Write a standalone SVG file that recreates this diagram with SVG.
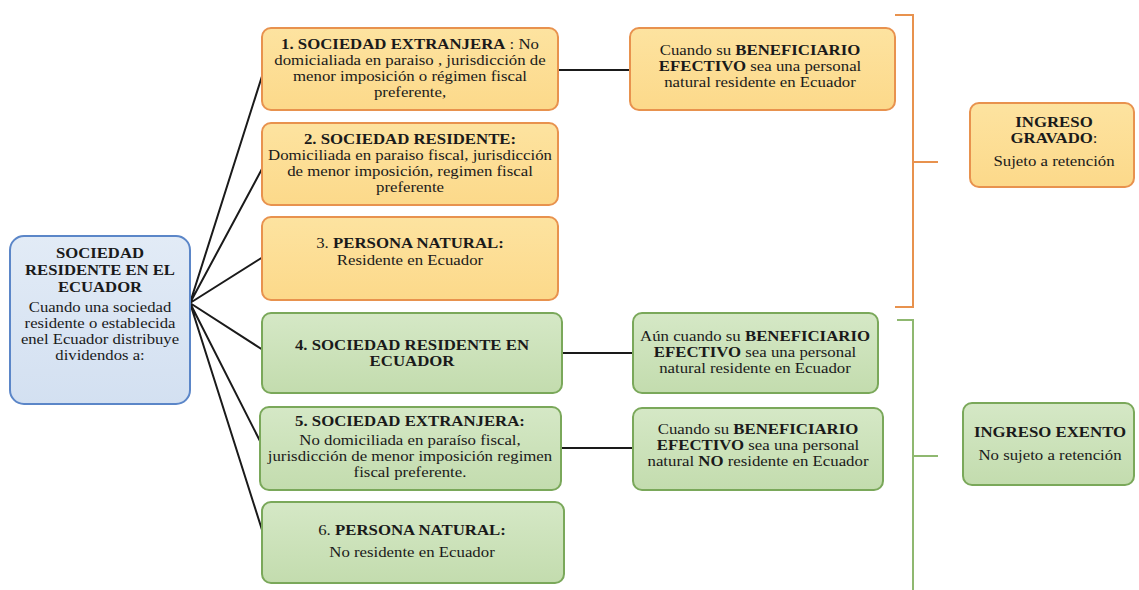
<svg xmlns="http://www.w3.org/2000/svg" width="1139" height="590" viewBox="0 0 1139 590">
<defs>
<linearGradient id="gOr" x1="0" y1="0" x2="0" y2="1"><stop offset="0" stop-color="#fde3a0"/><stop offset="1" stop-color="#fcd98a"/></linearGradient>
<linearGradient id="gGr" x1="0" y1="0" x2="0" y2="1"><stop offset="0" stop-color="#d5e8c6"/><stop offset="1" stop-color="#c3dcae"/></linearGradient>
<linearGradient id="gBl" x1="0" y1="0" x2="0" y2="1"><stop offset="0" stop-color="#e2ebf6"/><stop offset="1" stop-color="#d3e0f1"/></linearGradient>
</defs>
<style>
text{font-family:"Liberation Serif","Times New Roman",Tinos,"Noto Serif","DejaVu Serif",serif;font-size:14px;fill:#1a1a1a;text-anchor:middle}
.b{font-weight:bold}
.lt{font-size:14.5px}
.or{fill:url(#gOr);stroke:#e8924e;stroke-width:2}
.gr{fill:url(#gGr);stroke:#7aa85a;stroke-width:2}
.bl{fill:url(#gBl);stroke:#5b86c8;stroke-width:2}
.ln{stroke:#1a1a1a;stroke-width:2;fill:none}
.bo{stroke:#e8924e;stroke-width:2;fill:none}
.bg{stroke:#8fb870;stroke-width:2;fill:none}
</style>
<rect width="1139" height="590" fill="#ffffff"/>
<g id="connectors">
<path class="ln" d="M190 303 L263 73 M190 303 L263 167 M190 303 L263 257 M190 303 L263 350 M190 303 L261 443 M190 303 L263 533"/>
<path class="ln" d="M558 70 L630 70 M562 353 L633 353 M561 448 L633 448"/>
<path class="bo" d="M895 15 L913 15 L913 307 L895 307 M913 162 L938 162"/>
<path class="bg" d="M897 320 L913 320 L913 590 M913 456 L938 456"/>
</g>
<g id="n0">
<rect class="bl" x="10" y="236" width="180" height="168" rx="14"/>
<g transform="matrix(1.15 0 0 1 100 0)">
<text class="b lt" x="0" y="258">SOCIEDAD</text>
<text class="b lt" x="0" y="275">RESIDENTE EN EL</text>
<text class="b lt" x="0" y="292">ECUADOR</text>
<text class="lt" x="0" y="312">Cuando una sociedad</text>
<text class="lt" x="0" y="328">residente o establecida</text>
<text class="lt" x="0" y="344">enel Ecuador distribuye</text>
<text class="lt" x="0" y="360">dividendos a:</text>
</g>
</g>
<g id="n1">
<rect class="or" x="262" y="28" width="296" height="82" rx="9"/>
<g transform="matrix(1.2 0 0 1 410 0)">
<text x="0" y="49"><tspan class="b">1. SOCIEDAD EXTRANJERA</tspan> : No</text>
<text x="0" y="65">domicialiada en paraiso , jurisdicción de</text>
<text x="0" y="81">menor imposición o régimen fiscal</text>
<text x="0" y="97">preferente,</text>
</g>
</g>
<g id="n2">
<rect class="or" x="262" y="123" width="296" height="82" rx="9"/>
<g transform="matrix(1.2 0 0 1 410 0)">
<text class="b" x="0" y="144">2. SOCIEDAD RESIDENTE:</text>
<text x="0" y="160">Domiciliada en paraiso fiscal, jurisdicción</text>
<text x="0" y="176">de menor imposición, regimen fiscal</text>
<text x="0" y="192">preferente</text>
</g>
</g>
<g id="n3">
<rect class="or" x="262" y="217" width="296" height="83" rx="9"/>
<g transform="matrix(1.2 0 0 1 410 0)">
<text x="0" y="248">3. <tspan class="b">PERSONA NATURAL:</tspan></text>
<text x="0" y="265">Residente en Ecuador</text>
</g>
</g>
<g id="n4">
<rect class="gr" x="262" y="313" width="300" height="80" rx="9"/>
<g transform="matrix(1.2 0 0 1 412 0)">
<text class="b" x="0" y="350">4. SOCIEDAD RESIDENTE EN</text>
<text class="b" x="0" y="366">ECUADOR</text>
</g>
</g>
<g id="n5">
<rect class="gr" x="260" y="407" width="301" height="83" rx="9"/>
<g transform="matrix(1.2 0 0 1 410 0)">
<text class="b" x="0" y="426">5. SOCIEDAD EXTRANJERA:</text>
<text x="0" y="445">No domiciliada en paraíso fiscal,</text>
<text x="0" y="461">jurisdicción de menor imposición regimen</text>
<text x="0" y="477">fiscal preferente.</text>
</g>
</g>
<g id="n6">
<rect class="gr" x="262" y="502" width="302" height="81" rx="9"/>
<g transform="matrix(1.2 0 0 1 412 0)">
<text x="0" y="535">6. <tspan class="b">PERSONA NATURAL:</tspan></text>
<text x="0" y="557">No residente en Ecuador</text>
</g>
</g>
<g id="nA">
<rect class="or" x="630" y="28" width="265" height="82" rx="9"/>
<g transform="matrix(1.2 0 0 1 760 0)">
<text x="0" y="55">Cuando su <tspan class="b">BENEFICIARIO</tspan></text>
<text x="0" y="71"><tspan class="b">EFECTIVO</tspan> sea una personal</text>
<text x="0" y="87">natural residente en Ecuador</text>
</g>
</g>
<g id="nB">
<rect class="gr" x="633" y="313" width="245" height="80" rx="9"/>
<g transform="matrix(1.2 0 0 1 755 0)">
<text x="0" y="341">Aún cuando su <tspan class="b">BENEFICIARIO</tspan></text>
<text x="0" y="357"><tspan class="b">EFECTIVO</tspan> sea una personal</text>
<text x="0" y="373">natural residente en Ecuador</text>
</g>
</g>
<g id="nC">
<rect class="gr" x="633" y="408" width="250" height="82" rx="9"/>
<g transform="matrix(1.2 0 0 1 758 0)">
<text x="0" y="434">Cuando su <tspan class="b">BENEFICIARIO</tspan></text>
<text x="0" y="450"><tspan class="b">EFECTIVO</tspan> sea una personal</text>
<text x="0" y="466">natural  <tspan class="b">NO</tspan> residente en Ecuador</text>
</g>
</g>
<g id="nG">
<rect class="or" x="970" y="103" width="164" height="84" rx="9"/>
<g transform="matrix(1.2 0 0 1 1054 0)">
<text class="b" x="0" y="127">INGRESO</text>
<text x="0" y="143"><tspan class="b">GRAVADO</tspan>:</text>
<text x="0" y="166">Sujeto a retención</text>
</g>
</g>
<g id="nE">
<rect class="gr" x="963" y="403" width="171" height="82" rx="9"/>
<g transform="matrix(1.2 0 0 1 1050 0)">
<text class="b" x="0" y="437">INGRESO EXENTO</text>
<text x="0" y="460">No sujeto a retención</text>
</g>
</g>
</svg>
